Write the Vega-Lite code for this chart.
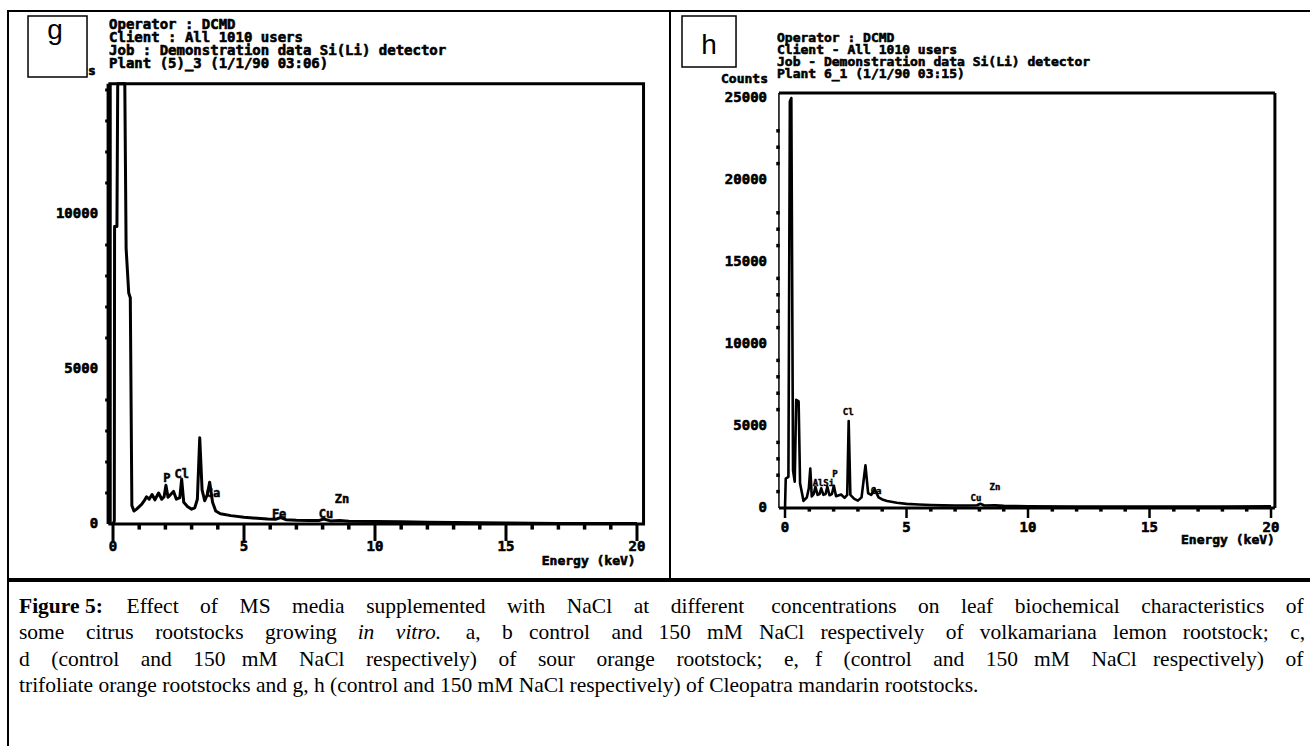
{
  "$schema": "https://vega.github.io/schema/vega-lite/v6.json",
  "background": "white",
  "padding": {"left": 7, "top": 10, "right": 0, "bottom": 0},
  "spacing": 0,
  "config": {
    "view": {"stroke": "black", "strokeWidth": 2},
    "axis": {"disable": true},
    "text": {"color": "black"}
  },
  "datasets": {
    "specG": [
      {"keV": 0, "counts": 0}, {"keV": 0.05, "counts": 100}, {"keV": 0.06, "counts": 9600},
      {"keV": 0.15, "counts": 9600}, {"keV": 0.18, "counts": 14200}, {"keV": 0.45, "counts": 14200},
      {"keV": 0.5, "counts": 8900}, {"keV": 0.6, "counts": 7450}, {"keV": 0.66, "counts": 7300},
      {"keV": 0.72, "counts": 600}, {"keV": 0.8, "counts": 420}, {"keV": 0.9, "counts": 480},
      {"keV": 1.0, "counts": 560}, {"keV": 1.1, "counts": 640}, {"keV": 1.2, "counts": 760},
      {"keV": 1.28, "counts": 880}, {"keV": 1.38, "counts": 800}, {"keV": 1.49, "counts": 950},
      {"keV": 1.6, "counts": 780}, {"keV": 1.74, "counts": 1000}, {"keV": 1.86, "counts": 800},
      {"keV": 1.95, "counts": 880}, {"keV": 2.02, "counts": 1250}, {"keV": 2.1, "counts": 860},
      {"keV": 2.31, "counts": 1050}, {"keV": 2.42, "counts": 800}, {"keV": 2.55, "counts": 850},
      {"keV": 2.62, "counts": 1450}, {"keV": 2.7, "counts": 700}, {"keV": 2.85, "counts": 560},
      {"keV": 3.0, "counts": 480}, {"keV": 3.12, "counts": 520}, {"keV": 3.22, "counts": 800},
      {"keV": 3.31, "counts": 2780}, {"keV": 3.4, "counts": 1100}, {"keV": 3.5, "counts": 750},
      {"keV": 3.6, "counts": 950}, {"keV": 3.69, "counts": 1350}, {"keV": 3.8, "counts": 700},
      {"keV": 3.92, "counts": 420}, {"keV": 4.1, "counts": 330}, {"keV": 4.5, "counts": 270},
      {"keV": 5.0, "counts": 220}, {"keV": 5.5, "counts": 185}, {"keV": 5.9, "counts": 160},
      {"keV": 6.2, "counts": 150}, {"keV": 6.4, "counts": 210}, {"keV": 6.6, "counts": 140},
      {"keV": 7.0, "counts": 120}, {"keV": 7.5, "counts": 110}, {"keV": 7.85, "counts": 110},
      {"keV": 8.04, "counts": 160}, {"keV": 8.3, "counts": 100}, {"keV": 8.64, "counts": 115},
      {"keV": 9.0, "counts": 90}, {"keV": 10.0, "counts": 80}, {"keV": 11.0, "counts": 70},
      {"keV": 12.0, "counts": 60}, {"keV": 13.0, "counts": 50}, {"keV": 14.0, "counts": 40},
      {"keV": 15.0, "counts": 30}, {"keV": 17.0, "counts": 20}, {"keV": 20.0, "counts": 15}
    ],
    "specH": [
      {"keV": 0, "counts": 0}, {"keV": 0.03, "counts": 1800}, {"keV": 0.14, "counts": 1900},
      {"keV": 0.2, "counts": 24800}, {"keV": 0.26, "counts": 25000}, {"keV": 0.33, "counts": 2300},
      {"keV": 0.4, "counts": 1600}, {"keV": 0.46, "counts": 6600}, {"keV": 0.56, "counts": 6500},
      {"keV": 0.62, "counts": 1500}, {"keV": 0.7, "counts": 900}, {"keV": 0.76, "counts": 430},
      {"keV": 0.9, "counts": 650}, {"keV": 0.98, "counts": 1200}, {"keV": 1.04, "counts": 2400},
      {"keV": 1.1, "counts": 700}, {"keV": 1.18, "counts": 850}, {"keV": 1.25, "counts": 1300},
      {"keV": 1.34, "counts": 800}, {"keV": 1.42, "counts": 850}, {"keV": 1.49, "counts": 1200},
      {"keV": 1.58, "counts": 800}, {"keV": 1.67, "counts": 850}, {"keV": 1.74, "counts": 1300},
      {"keV": 1.83, "counts": 780}, {"keV": 1.93, "counts": 850}, {"keV": 2.01, "counts": 1350},
      {"keV": 2.1, "counts": 720}, {"keV": 2.31, "counts": 820}, {"keV": 2.45, "counts": 620},
      {"keV": 2.56, "counts": 800}, {"keV": 2.62, "counts": 5300}, {"keV": 2.69, "counts": 800},
      {"keV": 2.85, "counts": 560}, {"keV": 3.0, "counts": 450}, {"keV": 3.15, "counts": 650},
      {"keV": 3.31, "counts": 2600}, {"keV": 3.42, "counts": 900}, {"keV": 3.55, "counts": 800},
      {"keV": 3.69, "counts": 1150}, {"keV": 3.85, "counts": 650}, {"keV": 4.0, "counts": 520},
      {"keV": 4.2, "counts": 430}, {"keV": 4.6, "counts": 320}, {"keV": 5.0, "counts": 250},
      {"keV": 5.5, "counts": 210}, {"keV": 6.0, "counts": 180}, {"keV": 6.5, "counts": 160},
      {"keV": 7.0, "counts": 150}, {"keV": 7.6, "counts": 150}, {"keV": 7.9, "counts": 170},
      {"keV": 8.04, "counts": 260}, {"keV": 8.2, "counts": 150}, {"keV": 8.64, "counts": 160},
      {"keV": 9.0, "counts": 130}, {"keV": 10.0, "counts": 110}, {"keV": 12.0, "counts": 95},
      {"keV": 14.0, "counts": 85}, {"keV": 16.0, "counts": 85}, {"keV": 18.0, "counts": 95},
      {"keV": 20.0, "counts": 110}
    ],
    "ticksMajor": [
      {"keV": 0, "label": "0"}, {"keV": 5, "label": "5"}, {"keV": 10, "label": "10"},
      {"keV": 15, "label": "15"}, {"keV": 20, "label": "20"}
    ],
    "ticksMinor": [
      {"keV": 1}, {"keV": 2}, {"keV": 3}, {"keV": 4}, {"keV": 6}, {"keV": 7}, {"keV": 8}, {"keV": 9},
      {"keV": 11}, {"keV": 12}, {"keV": 13}, {"keV": 14}, {"keV": 16}, {"keV": 17}, {"keV": 18}, {"keV": 19}
    ],
    "yTicksG": [
      {"counts": 1000}, {"counts": 2000}, {"counts": 3000}, {"counts": 4000}, {"counts": 6000},
      {"counts": 7000}, {"counts": 8000}, {"counts": 9000}, {"counts": 11000}, {"counts": 12000},
      {"counts": 13000}, {"counts": 14000}
    ],
    "yLabelsG": [
      {"counts": 0, "label": "0"}, {"counts": 5000, "label": "5000"}, {"counts": 10000, "label": "10000"}
    ],
    "yTicksH": [
      {"counts": 1000}, {"counts": 2000}, {"counts": 3000}, {"counts": 4000}, {"counts": 6000},
      {"counts": 7000}, {"counts": 8000}, {"counts": 9000}, {"counts": 11000}, {"counts": 12000},
      {"counts": 13000}, {"counts": 14000}, {"counts": 16000}, {"counts": 17000}, {"counts": 18000},
      {"counts": 21000}, {"counts": 22000}, {"counts": 23000}
    ],
    "yLabelsH": [
      {"counts": 0, "label": "0"}, {"counts": 5000, "label": "5000"}, {"counts": 10000, "label": "10000"},
      {"counts": 15000, "label": "15000"}, {"counts": 20000, "label": "20000"}, {"counts": 25000, "label": "25000"}
    ],
    "peaksG": [
      {"el": "P", "keV": 2.06, "counts": 1500}, {"el": "Cl", "keV": 2.62, "counts": 1600},
      {"el": "Ca", "keV": 3.82, "counts": 1000}, {"el": "Fe", "keV": 6.34, "counts": 330},
      {"el": "Cu", "keV": 8.13, "counts": 330}, {"el": "Zn", "keV": 8.74, "counts": 800}
    ],
    "peaksH": [
      {"el": "Al", "keV": 1.36, "counts": 1500}, {"el": "Si", "keV": 1.8, "counts": 1550},
      {"el": "P", "keV": 2.06, "counts": 2100}, {"el": "Cl", "keV": 2.6, "counts": 5850},
      {"el": "Ca", "keV": 3.74, "counts": 1040}, {"el": "Cu", "keV": 7.86, "counts": 610},
      {"el": "Zn", "keV": 8.64, "counts": 1280}
    ],
    "caption": [
      {"line": 1, "part": "label", "text": "Figure 5:"},
      {"line": 1, "part": "body", "text": "\u200b\u00a0\u00a0\u00a0\u00a0\u00a0\u00a0\u00a0\u00a0\u00a0\u00a0\u00a0\u00a0\u00a0\u00a0\u00a0\u00a0\u00a0\u00a0\u00a0\u00a0Effect\u00a0\u00a0\u00a0\u00a0of\u00a0\u00a0\u00a0\u00a0MS\u00a0\u00a0\u00a0\u00a0media\u00a0\u00a0\u00a0\u00a0supplemented\u00a0\u00a0\u00a0\u00a0with\u00a0\u00a0\u00a0\u00a0NaCl\u00a0\u00a0\u00a0\u00a0at\u00a0\u00a0\u00a0\u00a0different\u00a0\u00a0\u00a0\u00a0\u00a0concentrations\u00a0\u00a0\u00a0\u00a0on\u00a0\u00a0\u00a0\u00a0leaf\u00a0\u00a0\u00a0\u00a0biochemical\u00a0\u00a0\u00a0\u00a0characteristics\u00a0\u00a0\u00a0\u00a0of"},
      {"line": 2, "part": "body", "text": "some\u00a0\u00a0\u00a0\u00a0citrus\u00a0\u00a0\u00a0\u00a0rootstocks\u00a0\u00a0\u00a0\u00a0growing\u00a0\u00a0\u00a0\u00a0\u00a0\u00a0\u00a0\u00a0\u00a0\u00a0\u00a0\u00a0\u00a0\u00a0\u00a0\u00a0\u00a0\u00a0\u00a0\u00a0\u00a0\u00a0\u00a0\u00a0a,\u00a0\u00a0\u00a0\u00a0b\u00a0\u00a0\u00a0control\u00a0\u00a0\u00a0\u00a0and\u00a0\u00a0\u00a0150\u00a0\u00a0\u00a0mM\u00a0\u00a0\u00a0NaCl\u00a0\u00a0\u00a0respectively\u00a0\u00a0\u00a0\u00a0of\u00a0\u00a0\u00a0volkamariana\u00a0\u00a0\u00a0lemon\u00a0\u00a0\u00a0rootstock;\u00a0\u00a0\u00a0\u00a0c,"},
      {"line": 2, "part": "emphasis", "text": "\u200b\u00a0\u00a0\u00a0\u00a0\u00a0\u00a0\u00a0\u00a0\u00a0\u00a0\u00a0\u00a0\u00a0\u00a0\u00a0\u00a0\u00a0\u00a0\u00a0\u00a0\u00a0\u00a0\u00a0\u00a0\u00a0\u00a0\u00a0\u00a0\u00a0\u00a0\u00a0\u00a0\u00a0\u00a0\u00a0\u00a0\u00a0\u00a0\u00a0\u00a0\u00a0\u00a0\u00a0\u00a0\u00a0\u00a0\u00a0\u00a0\u00a0\u00a0\u00a0\u00a0\u00a0\u00a0\u00a0\u00a0\u00a0\u00a0\u00a0\u00a0\u00a0\u00a0\u00a0in\u00a0\u00a0\u00a0\u00a0vitro."},
      {"line": 3, "part": "body", "text": "d\u00a0\u00a0\u00a0\u00a0(control\u00a0\u00a0\u00a0\u00a0and\u00a0\u00a0\u00a0\u00a0150\u00a0\u00a0\u00a0mM\u00a0\u00a0\u00a0\u00a0NaCl\u00a0\u00a0\u00a0\u00a0respectively)\u00a0\u00a0\u00a0\u00a0of\u00a0\u00a0\u00a0\u00a0sour\u00a0\u00a0\u00a0\u00a0orange\u00a0\u00a0\u00a0\u00a0rootstock;\u00a0\u00a0\u00a0\u00a0e,\u00a0\u00a0\u00a0f\u00a0\u00a0\u00a0\u00a0(control\u00a0\u00a0\u00a0\u00a0and\u00a0\u00a0\u00a0\u00a0150\u00a0\u00a0\u00a0mM\u00a0\u00a0\u00a0\u00a0NaCl\u00a0\u00a0\u00a0respectively)\u00a0\u00a0\u00a0\u00a0of"},
      {"line": 4, "part": "body", "text": "trifoliate orange rootstocks and g, h (control and 150 mM NaCl respectively) of Cleopatra mandarin rootstocks."}
    ]
  },
  "vconcat": [
    {
      "hconcat": [
        {
          "width": 662,
          "height": 568,
          "layer": [
            {
              "data": {"values": [{}]},
              "mark": {"type": "rect", "filled": false, "stroke": "black", "strokeWidth": 3},
              "encoding": {
                "x": {"datum": -0.12, "scale": {"domain": [-4.008, 21.26], "nice": false, "zero": false}},
                "x2": {"datum": 20.25},
                "y": {"datum": 0, "scale": {"domain": [-1774, 16548], "nice": false, "zero": false}},
                "y2": {"datum": 14200}
              }
            },
            {
              "data": {"values": [{}]},
              "mark": {"type": "rule", "color": "black", "strokeWidth": 5},
              "encoding": {
                "x": {"datum": -0.15, "scale": {"domain": [-4.008, 21.26], "nice": false, "zero": false}},
                "y": {"datum": 0, "scale": {"domain": [-1774, 16548], "nice": false, "zero": false}},
                "y2": {"datum": 14200}
              }
            },
            {
              "data": {"name": "specG"},
              "mark": {"type": "line", "color": "black", "strokeWidth": 3, "strokeJoin": "round"},
              "encoding": {
                "x": {"field": "keV", "type": "quantitative", "scale": {"domain": [-4.008, 21.26], "nice": false, "zero": false}},
                "y": {"field": "counts", "type": "quantitative", "scale": {"domain": [-1774, 16548], "nice": false, "zero": false}}
              }
            },
            {
              "data": {"name": "ticksMajor"},
              "mark": {"type": "rule", "color": "black", "strokeWidth": 3},
              "encoding": {
                "x": {"field": "keV", "type": "quantitative", "scale": {"domain": [-4.008, 21.26], "nice": false, "zero": false}},
                "y": {"datum": 0, "scale": {"domain": [-1774, 16548], "nice": false, "zero": false}},
                "y2": {"datum": -550}
              }
            },
            {
              "data": {"name": "ticksMinor"},
              "mark": {"type": "rule", "color": "black", "strokeWidth": 3.5},
              "encoding": {
                "x": {"field": "keV", "type": "quantitative", "scale": {"domain": [-4.008, 21.26], "nice": false, "zero": false}},
                "y": {"datum": 0, "scale": {"domain": [-1774, 16548], "nice": false, "zero": false}},
                "y2": {"datum": -180}
              }
            },
            {
              "data": {"name": "ticksMajor"},
              "mark": {"type": "text", "font": "DejaVu Sans Mono", "fontWeight": "bold", "fontSize": 14, "baseline": "middle", "stroke": "black", "strokeWidth": 0.6},
              "encoding": {
                "x": {"field": "keV", "type": "quantitative", "scale": {"domain": [-4.008, 21.26], "nice": false, "zero": false}},
                "y": {"datum": -740, "scale": {"domain": [-1774, 16548], "nice": false, "zero": false}},
                "text": {"field": "label"}
              }
            },
            {
              "data": {"name": "yTicksG"},
              "mark": {"type": "rule", "color": "black", "strokeWidth": 3},
              "encoding": {
                "x": {"datum": -0.15, "scale": {"domain": [-4.008, 21.26], "nice": false, "zero": false}},
                "x2": {"datum": -0.3},
                "y": {"field": "counts", "type": "quantitative", "scale": {"domain": [-1774, 16548], "nice": false, "zero": false}}
              }
            },
            {
              "data": {"name": "yLabelsG"},
              "mark": {"type": "text", "font": "DejaVu Sans Mono", "fontWeight": "bold", "fontSize": 14, "align": "right", "baseline": "middle", "stroke": "black", "strokeWidth": 0.6},
              "encoding": {
                "x": {"datum": -0.57, "scale": {"domain": [-4.008, 21.26], "nice": false, "zero": false}},
                "y": {"field": "counts", "type": "quantitative", "scale": {"domain": [-1774, 16548], "nice": false, "zero": false}},
                "text": {"field": "label"}
              }
            },
            {
              "data": {"values": [{}]},
              "mark": {"type": "text", "text": "Counts", "font": "DejaVu Sans Mono", "fontWeight": "bold", "fontSize": 13, "align": "right", "baseline": "middle", "stroke": "black", "strokeWidth": 0.6},
              "encoding": {
                "x": {"datum": -0.66, "scale": {"domain": [-4.008, 21.26], "nice": false, "zero": false}},
                "y": {"datum": 14613, "scale": {"domain": [-1774, 16548], "nice": false, "zero": false}}
              }
            },
            {
              "data": {"values": [{}]},
              "mark": {"type": "text", "text": "Energy  (keV)", "font": "DejaVu Sans Mono", "fontWeight": "bold", "fontSize": 13, "align": "right", "baseline": "middle", "stroke": "black", "strokeWidth": 0.6},
              "encoding": {
                "x": {"datum": 19.95, "scale": {"domain": [-4.008, 21.26], "nice": false, "zero": false}},
                "y": {"datum": -1180, "scale": {"domain": [-1774, 16548], "nice": false, "zero": false}}
              }
            },
            {
              "data": {"values": [{}]},
              "mark": {
                "type": "text",
                "text": ["Operator : DCMD", "Client : All  1010  users", "Job : Demonstration data  Si(Li) detector", "Plant (5)_3 (1/1/90 03:06)"],
                "font": "DejaVu Sans Mono", "fontWeight": "bold", "fontSize": 14, "lineHeight": 13,
                "align": "left", "baseline": "alphabetic", "stroke": "black", "strokeWidth": 0.6
              },
              "encoding": {
                "x": {"datum": -0.15, "scale": {"domain": [-4.008, 21.26], "nice": false, "zero": false}},
                "y": {"datum": 15968, "scale": {"domain": [-1774, 16548], "nice": false, "zero": false}}
              }
            },
            {
              "data": {"name": "peaksG"},
              "mark": {"type": "text", "font": "DejaVu Sans Mono", "fontWeight": "bold", "fontSize": 12, "baseline": "middle", "stroke": "black", "strokeWidth": 0.5},
              "encoding": {
                "x": {"field": "keV", "type": "quantitative", "scale": {"domain": [-4.008, 21.26], "nice": false, "zero": false}},
                "y": {"field": "counts", "type": "quantitative", "scale": {"domain": [-1774, 16548], "nice": false, "zero": false}},
                "text": {"field": "el"}
              }
            },
            {
              "data": {"values": [{}]},
              "mark": {"type": "rect", "fill": "white", "stroke": "black", "strokeWidth": 1.5},
              "encoding": {
                "x": {"datum": -3.244, "scale": {"domain": [-4.008, 21.26], "nice": false, "zero": false}},
                "x2": {"datum": -0.992},
                "y": {"datum": 16387, "scale": {"domain": [-1774, 16548], "nice": false, "zero": false}},
                "y2": {"datum": 14419}
              }
            },
            {
              "data": {"values": [{}]},
              "mark": {"type": "text", "text": "g", "font": "Liberation Sans", "fontSize": 28, "baseline": "middle", "align": "center"},
              "encoding": {
                "x": {"datum": -2.214, "scale": {"domain": [-4.008, 21.26], "nice": false, "zero": false}},
                "y": {"datum": 15903, "scale": {"domain": [-1774, 16548], "nice": false, "zero": false}}
              }
            }
          ]
        },
        {
          "width": 645,
          "height": 568,
          "layer": [
            {
              "data": {"values": [{}]},
              "mark": {"type": "rule", "color": "black", "strokeWidth": 3},
              "encoding": {
                "x": {"datum": -0.25, "scale": {"domain": [-4.733, 21.81], "nice": false, "zero": false}},
                "x2": {"datum": 20.16},
                "y": {"datum": 25300, "scale": {"domain": [-4329, 30305], "nice": false, "zero": false}}
              }
            },
            {
              "data": {"values": [{}]},
              "mark": {"type": "rule", "color": "black", "strokeWidth": 3},
              "encoding": {
                "x": {"datum": -0.25, "scale": {"domain": [-4.733, 21.81], "nice": false, "zero": false}},
                "x2": {"datum": 20.16},
                "y": {"datum": 0, "scale": {"domain": [-4329, 30305], "nice": false, "zero": false}}
              }
            },
            {
              "data": {"values": [{}]},
              "mark": {"type": "rule", "color": "black", "strokeWidth": 3},
              "encoding": {
                "x": {"datum": 20.16, "scale": {"domain": [-4.733, 21.81], "nice": false, "zero": false}},
                "y": {"datum": 0, "scale": {"domain": [-4329, 30305], "nice": false, "zero": false}},
                "y2": {"datum": 25300}
              }
            },
            {
              "data": {"values": [{}]},
              "mark": {"type": "rule", "color": "black", "strokeWidth": 1.5},
              "encoding": {
                "x": {"datum": -0.25, "scale": {"domain": [-4.733, 21.81], "nice": false, "zero": false}},
                "y": {"datum": 0, "scale": {"domain": [-4329, 30305], "nice": false, "zero": false}},
                "y2": {"datum": 25300}
              }
            },
            {
              "data": {"name": "specH"},
              "mark": {"type": "line", "color": "black", "strokeWidth": 2.6, "strokeJoin": "round"},
              "encoding": {
                "x": {"field": "keV", "type": "quantitative", "scale": {"domain": [-4.733, 21.81], "nice": false, "zero": false}},
                "y": {"field": "counts", "type": "quantitative", "scale": {"domain": [-4329, 30305], "nice": false, "zero": false}}
              }
            },
            {
              "data": {"name": "ticksMajor"},
              "mark": {"type": "rule", "color": "black", "strokeWidth": 2.5},
              "encoding": {
                "x": {"field": "keV", "type": "quantitative", "scale": {"domain": [-4.733, 21.81], "nice": false, "zero": false}},
                "y": {"datum": 0, "scale": {"domain": [-4329, 30305], "nice": false, "zero": false}},
                "y2": {"datum": -610}
              }
            },
            {
              "data": {"name": "ticksMinor"},
              "mark": {"type": "rule", "color": "black", "strokeWidth": 3.5},
              "encoding": {
                "x": {"field": "keV", "type": "quantitative", "scale": {"domain": [-4.733, 21.81], "nice": false, "zero": false}},
                "y": {"datum": 0, "scale": {"domain": [-4329, 30305], "nice": false, "zero": false}},
                "y2": {"datum": -220}
              }
            },
            {
              "data": {"name": "ticksMajor"},
              "mark": {"type": "text", "font": "DejaVu Sans Mono", "fontWeight": "bold", "fontSize": 14, "baseline": "middle", "stroke": "black", "strokeWidth": 0.6},
              "encoding": {
                "x": {"field": "keV", "type": "quantitative", "scale": {"domain": [-4.733, 21.81], "nice": false, "zero": false}},
                "y": {"datum": -1220, "scale": {"domain": [-4329, 30305], "nice": false, "zero": false}},
                "text": {"field": "label"}
              }
            },
            {
              "data": {"name": "yTicksH"},
              "mark": {"type": "rule", "color": "black", "strokeWidth": 3.5},
              "encoding": {
                "x": {"datum": -0.22, "scale": {"domain": [-4.733, 21.81], "nice": false, "zero": false}},
                "x2": {"datum": -0.36},
                "y": {"field": "counts", "type": "quantitative", "scale": {"domain": [-4329, 30305], "nice": false, "zero": false}}
              }
            },
            {
              "data": {"name": "yLabelsH"},
              "mark": {"type": "text", "font": "DejaVu Sans Mono", "fontWeight": "bold", "fontSize": 14, "align": "right", "baseline": "middle", "stroke": "black", "strokeWidth": 0.6},
              "encoding": {
                "x": {"datum": -0.74, "scale": {"domain": [-4.733, 21.81], "nice": false, "zero": false}},
                "y": {"field": "counts", "type": "quantitative", "scale": {"domain": [-4329, 30305], "nice": false, "zero": false}},
                "text": {"field": "label"}
              }
            },
            {
              "data": {"values": [{}]},
              "mark": {"type": "text", "text": "Counts", "font": "DejaVu Sans Mono", "fontWeight": "bold", "fontSize": 13, "align": "right", "baseline": "middle", "stroke": "black", "strokeWidth": 0.6},
              "encoding": {
                "x": {"datum": -0.7, "scale": {"domain": [-4.733, 21.81], "nice": false, "zero": false}},
                "y": {"datum": 26160, "scale": {"domain": [-4329, 30305], "nice": false, "zero": false}}
              }
            },
            {
              "data": {"values": [{}]},
              "mark": {"type": "text", "text": "Energy  (keV)", "font": "DejaVu Sans Mono", "fontWeight": "bold", "fontSize": 13, "align": "right", "baseline": "middle", "stroke": "black", "strokeWidth": 0.6},
              "encoding": {
                "x": {"datum": 20.16, "scale": {"domain": [-4.733, 21.81], "nice": false, "zero": false}},
                "y": {"datum": -1950, "scale": {"domain": [-4329, 30305], "nice": false, "zero": false}}
              }
            },
            {
              "data": {"values": [{}]},
              "mark": {
                "type": "text",
                "text": ["Operator : DCMD", "Client - All  1010  users", "Job - Demonstration data  Si(Li) detector", "Plant 6_1 (1/1/90 03:15)"],
                "font": "DejaVu Sans Mono", "fontWeight": "bold", "fontSize": 13, "lineHeight": 12,
                "align": "left", "baseline": "alphabetic", "stroke": "black", "strokeWidth": 0.6
              },
              "encoding": {
                "x": {"datum": -0.33, "scale": {"domain": [-4.733, 21.81], "nice": false, "zero": false}},
                "y": {"datum": 28415, "scale": {"domain": [-4329, 30305], "nice": false, "zero": false}}
              }
            },
            {
              "data": {"name": "peaksH"},
              "mark": {"type": "text", "font": "DejaVu Sans Mono", "fontWeight": "bold", "fontSize": 9, "baseline": "middle", "stroke": "black", "strokeWidth": 0.4},
              "encoding": {
                "x": {"field": "keV", "type": "quantitative", "scale": {"domain": [-4.733, 21.81], "nice": false, "zero": false}},
                "y": {"field": "counts", "type": "quantitative", "scale": {"domain": [-4329, 30305], "nice": false, "zero": false}},
                "text": {"field": "el"}
              }
            },
            {
              "data": {"values": [{}]},
              "mark": {"type": "rect", "fill": "white", "stroke": "black", "strokeWidth": 1.5},
              "encoding": {
                "x": {"datum": -4.239, "scale": {"domain": [-4.733, 21.81], "nice": false, "zero": false}},
                "x2": {"datum": -2.016},
                "y": {"datum": 30000, "scale": {"domain": [-4329, 30305], "nice": false, "zero": false}},
                "y2": {"datum": 26890}
              }
            },
            {
              "data": {"values": [{}]},
              "mark": {"type": "text", "text": "h", "font": "Liberation Sans", "fontSize": 28, "baseline": "middle", "align": "center"},
              "encoding": {
                "x": {"datum": -3.128, "scale": {"domain": [-4.733, 21.81], "nice": false, "zero": false}},
                "y": {"datum": 28170, "scale": {"domain": [-4329, 30305], "nice": false, "zero": false}}
              }
            }
          ]
        }
      ],
      "spacing": 0,
      "bounds": "flush"
    },
    {
      "width": 1310,
      "height": 175,
      "data": {"name": "caption"},
      "layer": [
        {
          "transform": [{"filter": "datum.part === 'label'"}],
          "mark": {"type": "text", "font": "Liberation Serif", "fontSize": 21.5, "fontWeight": "bold", "align": "left", "baseline": "middle"},
          "encoding": {
            "x": {"datum": 18, "scale": {"domain": [7, 1317], "nice": false, "zero": false}},
            "y": {"field": "line", "type": "quantitative", "scale": {"domain": [0.0114, 6.665], "nice": false, "zero": false, "reverse": true}},
            "text": {"field": "text"}
          }
        },
        {
          "transform": [{"filter": "datum.part === 'body'"}],
          "mark": {"type": "text", "font": "Liberation Serif", "fontSize": 21.5, "align": "left", "baseline": "middle"},
          "encoding": {
            "x": {"datum": 18, "scale": {"domain": [7, 1317], "nice": false, "zero": false}},
            "y": {"field": "line", "type": "quantitative", "scale": {"domain": [0.0114, 6.665], "nice": false, "zero": false, "reverse": true}},
            "text": {"field": "text"}
          }
        },
        {
          "transform": [{"filter": "datum.part === 'emphasis'"}],
          "mark": {"type": "text", "font": "Liberation Serif", "fontSize": 21.5, "fontStyle": "italic", "align": "left", "baseline": "middle"},
          "encoding": {
            "x": {"datum": 18, "scale": {"domain": [7, 1317], "nice": false, "zero": false}},
            "y": {"field": "line", "type": "quantitative", "scale": {"domain": [0.0114, 6.665], "nice": false, "zero": false, "reverse": true}},
            "text": {"field": "text"}
          }
        }
      ]
    }
  ]
}
